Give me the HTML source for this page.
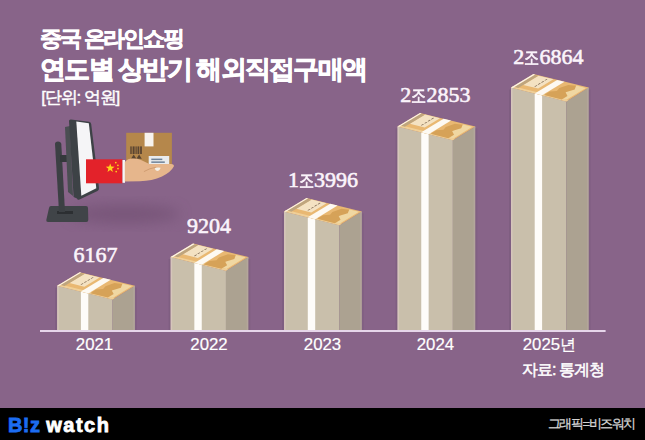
<!DOCTYPE html>
<html><head><meta charset="utf-8">
<style>
html,body{margin:0;padding:0;}
body{width:645px;height:440px;overflow:hidden;position:relative;background:#886489;font-family:"Liberation Sans",sans-serif;color:#fff;}
.t1{position:absolute;left:40px;top:24px;font-size:22px;font-weight:bold;white-space:nowrap;letter-spacing:-2.2px;-webkit-text-stroke:0.6px #fff}
.t2{position:absolute;left:40px;top:51.5px;font-size:26px;font-weight:bold;white-space:nowrap;letter-spacing:-1.75px;-webkit-text-stroke:0.8px #fff}
.t3{position:absolute;left:41.2px;top:86px;font-size:16.8px;white-space:nowrap;letter-spacing:-1.1px;-webkit-text-stroke:0.45px #fff}
.val{position:absolute;width:120px;text-align:center;font-family:"Liberation Serif",serif;font-size:22px;line-height:26px;white-space:nowrap;color:#fbf4fb;-webkit-text-stroke:0.6px #fbf4fb}
.val i{font-style:normal;font-size:19px;display:inline-block;transform:scaleX(0.8);margin:0 -1.9px}
.yr{position:absolute;width:120px;text-align:center;font-size:16.8px;line-height:20px;white-space:nowrap;-webkit-text-stroke:0.2px #fff}
.yr i{font-style:normal;font-size:15.5px}
.src{position:absolute;left:522px;top:360.2px;font-size:16px;font-weight:normal;white-space:nowrap;letter-spacing:-1px;-webkit-text-stroke:0.5px #fff}
.foot{position:absolute;left:0;top:408px;width:645px;height:32px;background:#000}
.logo{position:absolute;left:8px;top:413.7px;font-size:20px;font-weight:bold;white-space:nowrap;color:#fff;letter-spacing:0.4px;-webkit-text-stroke:0.8px #fff}
.logo b{-webkit-text-stroke:0.8px #1c6cf2}
.logo b{color:#1c6cf2}
.credit{position:absolute;right:10px;top:415px;font-size:13px;color:#d4d4d4;white-space:nowrap;letter-spacing:-1.4px;-webkit-text-stroke:0.3px #d4d4d4}
svg{position:absolute;left:0;top:0}
</style></head><body>
<div class="t1">중국 온라인쇼핑</div>
<div class="t2">연도별 상반기 해외직접구매액</div>
<div class="t3">[단위: 억원]</div>
<svg width="645" height="440" viewBox="0 0 645 440">
<rect x="40" y="330" width="565.6" height="2" fill="#e6d6ea"/>
<polygon points="57.2,285.7 112.5,299.5 112.5,330 57.2,330" fill="#c9bfab"/>
<polygon points="112.5,299.5 134.9,285.7 134.9,330 112.5,330" fill="#aca291"/>
<polygon points="133.3,285.9 134.9,285.7 134.9,330 133.3,330" fill="#b4a69c"/>
<rect x="55.2" y="287.7" width="2" height="42.30000000000001" fill="#7a5a7c" opacity="0.6"/>
<rect x="134.9" y="287.7" width="2" height="42.30000000000001" fill="#7a5a7c" opacity="0.45"/>
<polygon points="57.2,285.7 58.7,286.09999999999997 58.7,330 57.2,330" fill="#d6c5bb"/>
<polygon points="80.9,291.6142857142857 88.30000000000001,293.4609403254973 88.30000000000001,330 80.9,330" fill="#fefcf9"/>
<polygon points="57.20,285.70 79.60,272.20 134.90,285.70 112.50,299.50" fill="#e9b872" />
<polygon points="57.20,285.70 59.44,284.35 114.74,298.12 112.50,299.50" fill="#efcf98" />
<polygon points="69.45,283.02 84.68,273.82 99.61,277.47 84.38,286.72" fill="#f4e2c2" />
<polygon points="60.65,285.03 80.59,273.01 84.46,273.96 64.52,286.00" fill="#bea57e" />
<polygon points="57.20,285.70 79.60,272.20 81.26,272.60 58.86,286.11" fill="#fbf5ec" />
<polygon points="80.47,284.61 82.71,283.25 83.65,283.48 81.41,284.84" fill="#7c6650" />
<polygon points="83.83,282.57 86.07,281.21 87.01,281.44 84.77,282.80" fill="#7c6650" />
<polygon points="87.19,280.53 89.43,279.17 90.37,279.40 88.13,280.76" fill="#7c6650" />
<polygon points="90.55,278.49 92.79,277.13 93.73,277.36 91.49,278.72" fill="#7c6650" />
<polygon points="103.68,295.37 122.72,283.69 132.12,285.98 113.08,297.71" fill="#f0d7a2" />
<polygon points="90.17,293.16 95.99,289.60 103.11,289.05 105.48,286.18 114.52,283.02 122.27,283.96 120.89,287.66 111.74,290.42 113.69,293.99 107.87,297.57" fill="#d6a258" />
<polygon points="80.90,291.61 103.30,277.99 110.70,279.79 88.30,293.46" fill="#fdf9f2" />
<polygon points="170.65,257.0 225.95,270.8 225.95,330 170.65,330" fill="#c9bfab"/>
<polygon points="225.95,270.8 248.35,257.0 248.35,330 225.95,330" fill="#aca291"/>
<polygon points="246.75,257.2 248.35,257.0 248.35,330 246.75,330" fill="#b4a69c"/>
<rect x="168.65" y="259.0" width="2" height="71.0" fill="#7a5a7c" opacity="0.6"/>
<rect x="248.35" y="259.0" width="2" height="71.0" fill="#7a5a7c" opacity="0.45"/>
<polygon points="170.65,257.0 172.15,257.4 172.15,330 170.65,330" fill="#d6c5bb"/>
<polygon points="194.35,262.9142857142857 201.75,264.7609403254973 201.75,330 194.35,330" fill="#fefcf9"/>
<polygon points="170.65,257.00 193.05,243.50 248.35,257.00 225.95,270.80" fill="#e9b872" />
<polygon points="170.65,257.00 172.89,255.65 228.19,269.42 225.95,270.80" fill="#efcf98" />
<polygon points="182.90,254.32 198.13,245.12 213.06,248.77 197.83,258.02" fill="#f4e2c2" />
<polygon points="174.10,256.33 194.04,244.31 197.91,245.26 177.97,257.30" fill="#bea57e" />
<polygon points="170.65,257.00 193.05,243.50 194.71,243.91 172.31,257.41" fill="#fbf5ec" />
<polygon points="193.92,255.91 196.16,254.55 197.10,254.78 194.86,256.14" fill="#7c6650" />
<polygon points="197.28,253.87 199.52,252.51 200.46,252.74 198.22,254.10" fill="#7c6650" />
<polygon points="200.64,251.83 202.88,250.47 203.82,250.70 201.58,252.06" fill="#7c6650" />
<polygon points="204.00,249.79 206.24,248.43 207.18,248.66 204.94,250.02" fill="#7c6650" />
<polygon points="217.13,266.67 236.17,254.99 245.57,257.28 226.53,269.01" fill="#f0d7a2" />
<polygon points="203.62,264.46 209.44,260.90 216.56,260.35 218.93,257.48 227.97,254.32 235.72,255.26 234.34,258.96 225.19,261.72 227.14,265.29 221.32,268.87" fill="#d6a258" />
<polygon points="194.35,262.91 216.75,249.29 224.15,251.09 201.75,264.76" fill="#fdf9f2" />
<polygon points="284.1,211.4 339.40000000000003,225.20000000000002 339.40000000000003,330 284.1,330" fill="#c9bfab"/>
<polygon points="339.40000000000003,225.20000000000002 361.8,211.4 361.8,330 339.40000000000003,330" fill="#aca291"/>
<polygon points="360.2,211.6 361.8,211.4 361.8,330 360.2,330" fill="#b4a69c"/>
<rect x="282.1" y="213.4" width="2" height="116.6" fill="#7a5a7c" opacity="0.6"/>
<rect x="361.8" y="213.4" width="2" height="116.6" fill="#7a5a7c" opacity="0.45"/>
<polygon points="284.1,211.4 285.6,211.8 285.6,330 284.1,330" fill="#d6c5bb"/>
<polygon points="307.8,217.31428571428572 315.20000000000005,219.1609403254973 315.20000000000005,330 307.8,330" fill="#fefcf9"/>
<polygon points="284.10,211.40 306.50,197.90 361.80,211.40 339.40,225.20" fill="#e9b872" />
<polygon points="284.10,211.40 286.34,210.05 341.64,223.82 339.40,225.20" fill="#efcf98" />
<polygon points="296.35,208.72 311.58,199.52 326.51,203.17 311.28,212.42" fill="#f4e2c2" />
<polygon points="287.55,210.73 307.49,198.71 311.36,199.66 291.42,211.70" fill="#bea57e" />
<polygon points="284.10,211.40 306.50,197.90 308.16,198.31 285.76,211.81" fill="#fbf5ec" />
<polygon points="307.37,210.31 309.61,208.95 310.55,209.18 308.31,210.54" fill="#7c6650" />
<polygon points="310.73,208.27 312.97,206.91 313.91,207.14 311.67,208.50" fill="#7c6650" />
<polygon points="314.09,206.23 316.33,204.87 317.27,205.10 315.03,206.46" fill="#7c6650" />
<polygon points="317.45,204.19 319.69,202.83 320.63,203.06 318.39,204.42" fill="#7c6650" />
<polygon points="330.58,221.07 349.62,209.39 359.02,211.68 339.98,223.41" fill="#f0d7a2" />
<polygon points="317.07,218.86 322.89,215.30 330.01,214.75 332.38,211.88 341.42,208.72 349.17,209.66 347.79,213.36 338.64,216.12 340.59,219.69 334.77,223.27" fill="#d6a258" />
<polygon points="307.80,217.31 330.20,203.69 337.60,205.49 315.20,219.16" fill="#fdf9f2" />
<polygon points="397.55,126.4 452.85,140.20000000000002 452.85,330 397.55,330" fill="#c9bfab"/>
<polygon points="452.85,140.20000000000002 475.25,126.4 475.25,330 452.85,330" fill="#aca291"/>
<polygon points="473.65,126.60000000000001 475.25,126.4 475.25,330 473.65,330" fill="#b4a69c"/>
<rect x="395.55" y="128.4" width="2" height="201.6" fill="#7a5a7c" opacity="0.6"/>
<rect x="475.25" y="128.4" width="2" height="201.6" fill="#7a5a7c" opacity="0.45"/>
<polygon points="397.55,126.4 399.05,126.80000000000001 399.05,330 397.55,330" fill="#d6c5bb"/>
<polygon points="421.25,132.31428571428572 428.65000000000003,134.1609403254973 428.65000000000003,330 421.25,330" fill="#fefcf9"/>
<polygon points="397.55,126.40 419.95,112.90 475.25,126.40 452.85,140.20" fill="#e9b872" />
<polygon points="397.55,126.40 399.79,125.05 455.09,138.82 452.85,140.20" fill="#efcf98" />
<polygon points="409.80,123.72 425.03,114.52 439.96,118.17 424.73,127.42" fill="#f4e2c2" />
<polygon points="401.00,125.73 420.94,113.71 424.81,114.66 404.87,126.70" fill="#bea57e" />
<polygon points="397.55,126.40 419.95,112.90 421.61,113.31 399.21,126.81" fill="#fbf5ec" />
<polygon points="420.82,125.31 423.06,123.95 424.00,124.18 421.76,125.54" fill="#7c6650" />
<polygon points="424.18,123.27 426.42,121.91 427.36,122.14 425.12,123.50" fill="#7c6650" />
<polygon points="427.54,121.23 429.78,119.87 430.72,120.10 428.48,121.46" fill="#7c6650" />
<polygon points="430.90,119.19 433.14,117.83 434.08,118.06 431.84,119.42" fill="#7c6650" />
<polygon points="444.03,136.07 463.07,124.39 472.47,126.68 453.43,138.41" fill="#f0d7a2" />
<polygon points="430.52,133.86 436.34,130.30 443.46,129.75 445.83,126.88 454.87,123.72 462.62,124.66 461.24,128.36 452.09,131.12 454.04,134.69 448.22,138.27" fill="#d6a258" />
<polygon points="421.25,132.31 443.65,118.69 451.05,120.49 428.65,134.16" fill="#fdf9f2" />
<polygon points="511.0,87.6 566.3,101.39999999999999 566.3,330 511.0,330" fill="#c9bfab"/>
<polygon points="566.3,101.39999999999999 588.6999999999999,87.6 588.6999999999999,330 566.3,330" fill="#aca291"/>
<polygon points="587.0999999999999,87.8 588.6999999999999,87.6 588.6999999999999,330 587.0999999999999,330" fill="#b4a69c"/>
<rect x="509.0" y="89.6" width="2" height="240.4" fill="#7a5a7c" opacity="0.6"/>
<rect x="588.6999999999999" y="89.6" width="2" height="240.4" fill="#7a5a7c" opacity="0.45"/>
<polygon points="511.0,87.6 512.5,88.0 512.5,330 511.0,330" fill="#d6c5bb"/>
<polygon points="534.7,93.5142857142857 542.1,95.36094032549728 542.1,330 534.7,330" fill="#fefcf9"/>
<polygon points="511.00,87.60 533.40,74.10 588.70,87.60 566.30,101.40" fill="#e9b872" />
<polygon points="511.00,87.60 513.24,86.25 568.54,100.02 566.30,101.40" fill="#efcf98" />
<polygon points="523.25,84.92 538.48,75.72 553.41,79.37 538.18,88.62" fill="#f4e2c2" />
<polygon points="514.45,86.93 534.39,74.91 538.26,75.86 518.32,87.90" fill="#bea57e" />
<polygon points="511.00,87.60 533.40,74.10 535.06,74.50 512.66,88.01" fill="#fbf5ec" />
<polygon points="534.27,86.51 536.51,85.15 537.45,85.38 535.21,86.74" fill="#7c6650" />
<polygon points="537.63,84.47 539.87,83.11 540.81,83.34 538.57,84.70" fill="#7c6650" />
<polygon points="540.99,82.43 543.23,81.07 544.17,81.30 541.93,82.66" fill="#7c6650" />
<polygon points="544.35,80.39 546.59,79.03 547.53,79.26 545.29,80.62" fill="#7c6650" />
<polygon points="557.48,97.27 576.52,85.59 585.92,87.88 566.88,99.61" fill="#f0d7a2" />
<polygon points="543.97,95.06 549.79,91.50 556.91,90.95 559.28,88.08 568.32,84.92 576.07,85.86 574.69,89.56 565.54,92.32 567.49,95.89 561.67,99.47" fill="#d6a258" />
<polygon points="534.70,93.51 557.10,79.89 564.50,81.69 542.10,95.36" fill="#fdf9f2" />
<!-- monitor icon -->
<g>
<defs><filter id="blur" x="-50%" y="-50%" width="200%" height="200%"><feGaussianBlur stdDeviation="7"/></filter></defs>
<ellipse cx="125" cy="214" rx="55" ry="9" fill="#6a4a6c" opacity="0.55" filter="url(#blur)"/>
<path d="M51,206 L86,206 Q88,206 88,208 L88.3,220 Q88.3,222 86.3,222 L48,222 Q46,222 46.3,220 L49,208 Q49.3,206 51,206Z" fill="#404448"/>
<rect x="57" y="211" width="16" height="3" fill="#2c2f32"/>
<path d="M55,144 Q55,141.5 58,141.5 Q61,141.5 61.3,144 L65,212 L59,212 Z" fill="#3c4044"/>
<rect x="60" y="155" width="10" height="7" fill="#34383b"/>
<path d="M65,127 L70,126 L73,196 L68,192 Z" fill="#4a4e52"/>
<path d="M69,121 Q69,119.2 71,119.4 L89,121.8 Q91,122 91.2,124 L99,188 Q99.2,190 97.5,191 L79.5,199.5 Q77.5,200.5 77,198.5 L73.6,197 Z" fill="#3d4246"/>
<polygon points="76.3,121.5 88.8,123.3 96.3,188.3 81.3,195.8" fill="#f5f5f7"/>
</g>
<g>
<rect x="86" y="159.3" width="36.5" height="24" fill="#e3222a"/>
<rect x="122.5" y="160" width="2.5" height="22.8" fill="#f6f6f6"/>
<polygon points="110.2,163.4 111.3,166.6 114.6,166.7 112,168.7 112.9,171.9 110.2,170 107.5,171.9 108.4,168.7 105.8,166.7 109.1,166.6" fill="#ffd31a"/>
<circle cx="115.8" cy="162.6" r="0.85" fill="#ffd31a"/>
<circle cx="117.9" cy="165.3" r="0.85" fill="#ffd31a"/>
<circle cx="118" cy="168.6" r="0.85" fill="#ffd31a"/>
<circle cx="116.2" cy="171.6" r="0.85" fill="#ffd31a"/>
<rect x="126.2" y="132.8" width="45.7" height="32" fill="#b5874b"/>
<rect x="144.6" y="132.8" width="8.9" height="13.6" fill="#f7f3ee"/>
<rect x="130.3" y="146.4" width="1.4" height="7.6" fill="#5a4430"/>
<rect x="132.6" y="146.4" width="2" height="7.6" fill="#5a4430"/>
<rect x="135.5" y="146.4" width="1.2" height="7.6" fill="#5a4430"/>
<rect x="137.5" y="146.4" width="1.8" height="7.6" fill="#5a4430"/>
<rect x="140.1" y="146.4" width="1.8" height="7.6" fill="#5a4430"/>
<polygon points="131,158.7 133.7,154.6 136.4,158.7" fill="#5a4430"/>
<polygon points="136.4,158.7 139.1,154.6 141.8,158.7" fill="#5a4430"/>
<rect x="148.7" y="156" width="20.5" height="9.5" fill="#e9ebed"/>
<rect x="151.3" y="158.6" width="11" height="1.5" fill="#6e8297"/>
<rect x="151.3" y="161.4" width="13.5" height="1.5" fill="#6e8297"/>
<path d="M124.8,162 Q128,158.6 132,158.6 Q137,158.4 141,160 L149.4,164.1 L171,164.1 Q174.5,164.2 173.8,166.5 Q171,172 162,176.5 Q152,181 140,181.2 L124.8,181.4 Z" fill="#e6b68c"/>
<path d="M143.9,171.6 Q150,168 156,167.3" stroke="#c99569" stroke-width="0.8" fill="none"/>
<path d="M154.8,168 Q158,167 160.5,167.8 Q160,170.8 157,171 Q155,170.5 154.8,168Z" fill="#f4efe6"/>
</g>
</svg>
<div class="val" style="left:35.5px;top:241.7px">6167</div>
<div class="yr" style="left:34.5px;top:335px">2021</div>
<div class="val" style="left:149.0px;top:213.0px">9204</div>
<div class="yr" style="left:149.0px;top:335px">2022</div>
<div class="val" style="left:263.0px;top:167.4px">1<i>조</i>3996</div>
<div class="yr" style="left:262.5px;top:335px">2023</div>
<div class="val" style="left:375.4px;top:82.4px">2<i>조</i>2853</div>
<div class="yr" style="left:375.4px;top:335px">2024</div>
<div class="val" style="left:488.4px;top:43.6px">2<i>조</i>6864</div>
<div class="yr" style="left:489.4px;top:335px">2025<i>년</i></div>
<div class="src">자료: 통계청</div>
<div class="foot"></div>
<div class="logo"><b>B!z</b> <span style="letter-spacing:1.5px">watch</span></div>
<div class="credit">그래픽=비즈워치</div>
</body></html>
